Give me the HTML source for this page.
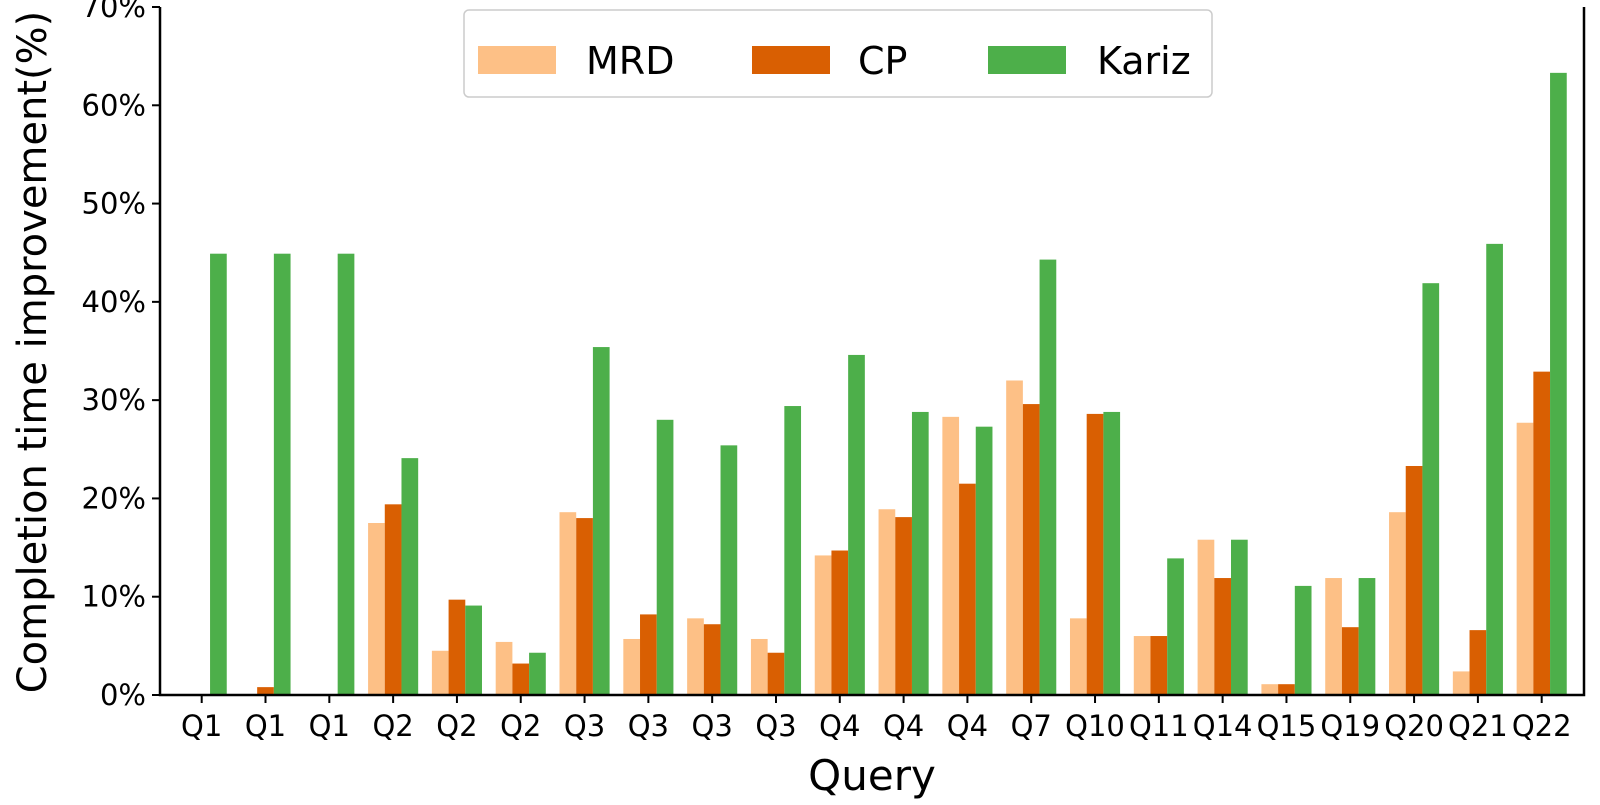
<!DOCTYPE html>
<html><head><meta charset="utf-8"><style>
html,body{margin:0;padding:0;background:#fff}
svg text{font-family:"DejaVu Sans","Liberation Sans",sans-serif;fill:#000}
</style></head><body>
<svg id="chart" width="1600" height="800" viewBox="0 0 1600 800" xmlns="http://www.w3.org/2000/svg">
<g id="bars"></g>
<g id="axes"></g>
<g>
<rect x="464" y="10" width="748" height="87" rx="5" fill="#fff" stroke="#ccc" stroke-width="1.5"/>
<rect x="478" y="46" width="78" height="28" fill="#fdc086"/>
<text x="586" y="74" font-size="38">MRD</text>
<rect x="752" y="46" width="78" height="28" fill="#d95f02"/>
<text x="858" y="74" font-size="38">CP</text>
<rect x="988" y="46" width="78" height="28" fill="#4daf4a"/>
<text x="1097" y="74" font-size="38">Kariz</text>
</g>
<text transform="translate(46,352) rotate(-90)" text-anchor="middle" font-size="40">Completion time improvement(%)</text>
<text x="872" y="790" text-anchor="middle" font-size="42">Query</text>
</svg>
<script>
const categories = ["Q1","Q1","Q1","Q2","Q2","Q2","Q3","Q3","Q3","Q3","Q4","Q4","Q4","Q7","Q10","Q11","Q14","Q15","Q19","Q20","Q21","Q22"];
const mrd   = [0,0,0,17.5,4.5,5.4,18.6,5.7,7.8,5.7,14.2,18.9,28.3,32.0,7.8,6.0,15.8,1.1,11.9,18.6,2.4,27.7];
const cp    = [0,0.8,0,19.4,9.7,3.2,18.0,8.2,7.2,4.3,14.7,18.1,21.5,29.6,28.6,6.0,11.9,1.1,6.9,23.3,6.6,32.9];
const kariz = [44.9,44.9,44.9,24.1,9.1,4.3,35.4,28.0,25.4,29.4,34.6,28.8,27.3,44.3,28.8,13.9,15.8,11.1,11.9,41.9,45.9,63.3];
const yTicks = [0,10,20,30,40,50,60,70];

const NS = "http://www.w3.org/2000/svg";
const X0 = 160, X1 = 1584, Y0 = 695, YT = 7;
const x = i => 201.7 + i * (1541.7 - 201.7) / (categories.length - 1);
const y = v => Y0 - v / 70 * (Y0 - YT);
const bw = 16.7;
const bars = document.getElementById('bars');
const axes = document.getElementById('axes');
function mk(tag, attrs, parent){const e=document.createElementNS(NS,tag);for(const k in attrs)e.setAttribute(k,attrs[k]);parent.appendChild(e);return e;}
const series = [[mrd,"#fdc086",-1,"mrd"],[cp,"#d95f02",0,"cp"],[kariz,"#4daf4a",1,"kariz"]];
series.forEach(([vals,col,off,nm])=>{
  vals.forEach((v,i)=>{
    const r = mk('rect',{x:x(i)+off*bw-bw/2,y:y(v),width:bw,height:Y0-y(v),fill:col},bars);
    
    
  });
});
const sp = mk('path',{d:`M${X0} ${YT} V${Y0} H${X1} V${YT}`,fill:"none",stroke:"#000","stroke-width":2.5},axes);


yTicks.forEach(t=>{
  const l = mk('line',{x1:X0-8,x2:X0,y1:y(t),y2:y(t),stroke:"#000","stroke-width":2},axes);
  
  
  const tx = mk('text',{x:X0-14,y:y(t)+10,"text-anchor":"end","font-size":29},axes);
  tx.textContent = t+'%';
  
  
});
categories.forEach((c,i)=>{
  const l = mk('line',{x1:x(i),x2:x(i),y1:Y0,y2:Y0+8,stroke:"#000","stroke-width":2},axes);
  
  
  const tx = mk('text',{x:x(i),y:Y0+41,"text-anchor":"middle","font-size":29},axes);
  tx.textContent = c;
  
  
});
</script>
</body></html>
